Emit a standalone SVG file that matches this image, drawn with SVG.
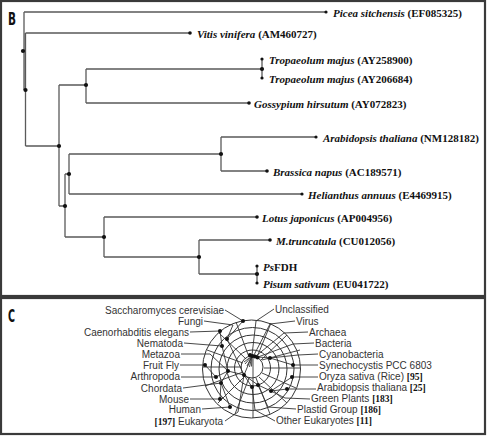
<svg xmlns="http://www.w3.org/2000/svg" width="487" height="436" viewBox="0 0 487 436">
<style>
.frame{fill:#fff;stroke:#3a3a3a;stroke-width:2.2}
.br{fill:none;stroke:#5a5a5a;stroke-width:1.3}
.nd{fill:#111}
.sp{font-family:"Liberation Serif",serif;font-weight:bold;font-size:11px;fill:#111}
.it{font-style:italic}
.pl{font-family:"DejaVu Sans Condensed","DejaVu Sans",sans-serif;font-weight:bold;font-size:18px;fill:#111}
.tx{font-family:"Liberation Sans",Arial,sans-serif;font-size:10px;fill:#333}
.num{font-family:"Liberation Serif",serif;font-weight:bold;font-size:9.5px;fill:#111}
.ring{fill:none;stroke:#333;stroke-width:1}
.ln{fill:none;stroke:#333;stroke-width:0.9}
</style>
<rect x="0" y="0" width="487" height="436" fill="#fff"/>
<rect class="frame" x="1" y="1" width="484" height="295"/>
<rect class="frame" x="1" y="298" width="484" height="136"/>
<text class="pl" x="8" y="25" textLength="8" lengthAdjust="spacingAndGlyphs">B</text>
<text class="pl" x="8" y="322" textLength="7" lengthAdjust="spacingAndGlyphs">C</text>

<g id="tree-connectors">
<path class="br" d="M24 12V90 M25.5 33V146 M24 12H326 M25.5 33H190 M25.5 146H59 M59 85V206 M59 85H86 M86 69V103 M86 69H262 M262 59V78 M86 103H249 M59 206H65 M65 174V237 M65 174H69 M69 154V194 M69 154H221 M221 137V171 M221 137H316 M221 171H267 M69 194H302 M65 237H104 M104 217V257 M104 217H257 M104 257H199 M199 240V274 M199 240H270 M199 274H257 M257 266V283"/>
<g class="nd">
<circle cx="23" cy="51" r="2.1"/><circle cx="25.5" cy="90" r="2.1"/><circle cx="59" cy="146" r="2.1"/>
<circle cx="86" cy="85" r="2.1"/><circle cx="262" cy="69" r="2.1"/><circle cx="221" cy="154" r="2.1"/>
<circle cx="69" cy="174" r="2.1"/><circle cx="65" cy="206" r="2.1"/><circle cx="104" cy="237" r="2.1"/>
<circle cx="199" cy="257" r="2.1"/><circle cx="257" cy="274" r="2.1"/>
</g>
</g>

<g id="picea"><circle class="nd" cx="326" cy="12" r="1.6"/><text class="sp" x="333" y="16.5"><tspan class="it">Picea sitchensis</tspan> (EF085325)</text></g>
<g id="vitis"><circle class="nd" cx="190" cy="33" r="1.8"/><text class="sp" x="197" y="37.5"><tspan class="it">Vitis vinifera</tspan> (AM460727)</text></g>
<g id="tropaeolum1"><circle class="nd" cx="262" cy="59" r="1.6"/><text class="sp" x="269" y="63.5"><tspan class="it">Tropaeolum majus</tspan> (AY258900)</text></g>
<g id="tropaeolum2"><circle class="nd" cx="262" cy="78" r="1.6"/><text class="sp" x="269" y="82.5"><tspan class="it">Tropaeolum majus</tspan> (AY206684)</text></g>
<g id="gossypium"><circle class="nd" cx="249" cy="103" r="1.8"/><text class="sp" x="254" y="107.5"><tspan class="it">Gossypium hirsutum</tspan> (AY072823)</text></g>
<g id="arabidopsis"><circle class="nd" cx="316" cy="137" r="1.6"/><text class="sp" x="323" y="141.5"><tspan class="it">Arabidopsis thaliana</tspan> (NM128182)</text></g>
<g id="brassica"><circle class="nd" cx="267" cy="171" r="1.8"/><text class="sp" x="273" y="175.5"><tspan class="it">Brassica napus</tspan> (AC189571)</text></g>
<g id="helianthus"><circle class="nd" cx="302" cy="194" r="1.6"/><text class="sp" x="308" y="198.5"><tspan class="it">Helianthus annuus</tspan> (E4469915)</text></g>
<g id="lotus"><circle class="nd" cx="257" cy="217" r="1.8"/><text class="sp" x="262" y="221.5"><tspan class="it">Lotus japonicus</tspan> (AP004956)</text></g>
<g id="mtruncatula"><circle class="nd" cx="270" cy="240" r="1.8"/><text class="sp" x="276" y="244.5"><tspan class="it">M.truncatula</tspan> (CU012056)</text></g>
<g id="psfdh"><circle class="nd" cx="257" cy="266" r="1.6"/><text class="sp" x="263" y="270.5"><tspan class="it">Ps</tspan>FDH</text></g>
<g id="pisum"><circle class="nd" cx="257" cy="283" r="1.6"/><text class="sp" x="263" y="287.5"><tspan class="it">Pisum sativum</tspan> (EU041722)</text></g>

<g id="taxonomy-rings">
<circle class="ring" cx="252" cy="367" r="11"/>
<circle class="ring" cx="252.5" cy="368" r="18"/>
<circle class="ring" cx="253" cy="368.5" r="26"/>
<circle class="ring" cx="253" cy="369" r="34"/>
<circle class="ring" cx="252.5" cy="369" r="41.5"/>
<circle class="ring" cx="251.5" cy="369" r="49"/>
</g>

<g id="taxonomy-connectors">
<path class="ln" d="M252 356L245 364M252 356L247 366M252 356L249.5 367M252 356L251.5 366.5M252 356L244 362"/>
<path class="ln" d="M225 310L243 321M204 321L233 325L227 339M243 321L227 339M190 332L220 331M184 343L222 346M220 331L222 346M181 354L210 354L228 371M180 365L205 365M181 377L216 377M205 365L216 377M183 388L221 383M190 399L220 399M202 409L230 407M220 399L221 383M230 407L221 383M222 346L228 371M216 377L228 371M221 383L228 371M228 371L244 375M227 339L244 375M225 421L238 412L244 375M244 375L252 356"/>
<path class="ln" d="M274 309L256 321L252 355M295 321L270 324L254 355M308 332L284 333L256 356M314 343L293 344L258 357M318 354L298 355L270 358L258 357M318 365L293 365L270 358M318 377L292 377L271 391M316 389L287 389L271 391M310 399L285 398L271 391M296 409L268 407L258 385M275 421L255 410L252 387M271 391L258 385L244 375M252 387L244 375"/>
<path class="ln" d="M253 357V418M262 360L300 350M264 368H300M262 373L296 388M259 377L287 403M256 378L270 414M249 378L235 414M245 376L218 403M243 372L205 386M242 367H203M243 363L207 350M246 359L219 333M249 357L236 322M257 357L271 323M261 360L287 335"/>
<g class="nd">
<circle cx="250" cy="355" r="2"/><circle cx="252.5" cy="356" r="2"/><circle cx="255" cy="356.5" r="2"/><circle cx="257.5" cy="357.5" r="2"/>
<circle cx="270" cy="358" r="2"/><circle cx="244" cy="375" r="2"/><circle cx="258" cy="385" r="2"/><circle cx="252" cy="387" r="2"/><circle cx="271" cy="391" r="2"/>
<circle cx="228" cy="371" r="2"/><circle cx="227" cy="339" r="2"/><circle cx="221" cy="383" r="2"/>
</g>
</g>

<g id="saccharomyces"><circle class="nd" cx="243" cy="321" r="2"/><text class="tx" x="224" y="313.5" text-anchor="end">Saccharomyces cerevisiae</text></g>
<g id="fungi"><text class="tx" x="203" y="324.5" text-anchor="end">Fungi</text></g>
<g id="caenorhabditis"><circle class="nd" cx="220" cy="331" r="2"/><text class="tx" x="189" y="336" text-anchor="end">Caenorhabditis elegans</text></g>
<g id="nematoda"><circle class="nd" cx="222" cy="346" r="2"/><text class="tx" x="183" y="347" text-anchor="end">Nematoda</text></g>
<g id="metazoa"><text class="tx" x="180" y="357.5" text-anchor="end">Metazoa</text></g>
<g id="fruitfly"><circle class="nd" cx="205" cy="365" r="2"/><text class="tx" x="179" y="368.5" text-anchor="end">Fruit Fly</text></g>
<g id="arthropoda"><circle class="nd" cx="216" cy="377" r="2"/><text class="tx" x="180" y="380" text-anchor="end">Arthropoda</text></g>
<g id="chordata"><text class="tx" x="182" y="391.5" text-anchor="end">Chordata</text></g>
<g id="mouse"><circle class="nd" cx="220" cy="399" r="2"/><text class="tx" x="189" y="402.5" text-anchor="end">Mouse</text></g>
<g id="human"><circle class="nd" cx="230" cy="407" r="2"/><text class="tx" x="201" y="413" text-anchor="end">Human</text></g>
<g id="eukaryota"><text class="tx" x="223" y="424.5" text-anchor="end"><tspan class="num">[197]</tspan> Eukaryota</text></g>

<g id="unclassified"><text class="tx" x="275" y="312.5">Unclassified</text></g>
<g id="virus"><text class="tx" x="296" y="324.5">Virus</text></g>
<g id="archaea"><text class="tx" x="309" y="335.5">Archaea</text></g>
<g id="bacteria"><text class="tx" x="315" y="346.5">Bacteria</text></g>
<g id="cyanobacteria"><text class="tx" x="319" y="357.5">Cyanobacteria</text></g>
<g id="synechocystis"><circle class="nd" cx="293" cy="365" r="2"/><text class="tx" x="319" y="368.5">Synechocystis PCC 6803</text></g>
<g id="oryza"><circle class="nd" cx="292" cy="377" r="2"/><text class="tx" x="319" y="379.5">Oryza sativa (Rice) <tspan class="num">[95]</tspan></text></g>
<g id="arabidopsis-c"><circle class="nd" cx="287" cy="389" r="2"/><text class="tx" x="317" y="390.5">Arabidopsis thaliana <tspan class="num">[25]</tspan></text></g>
<g id="greenplants"><text class="tx" x="311" y="401.5">Green Plants <tspan class="num">[183]</tspan></text></g>
<g id="plastid"><text class="tx" x="297" y="412.5">Plastid Group <tspan class="num">[186]</tspan></text></g>
<g id="othereuk"><text class="tx" x="276" y="424">Other Eukaryotes <tspan class="num">[11]</tspan></text></g>
</svg>
